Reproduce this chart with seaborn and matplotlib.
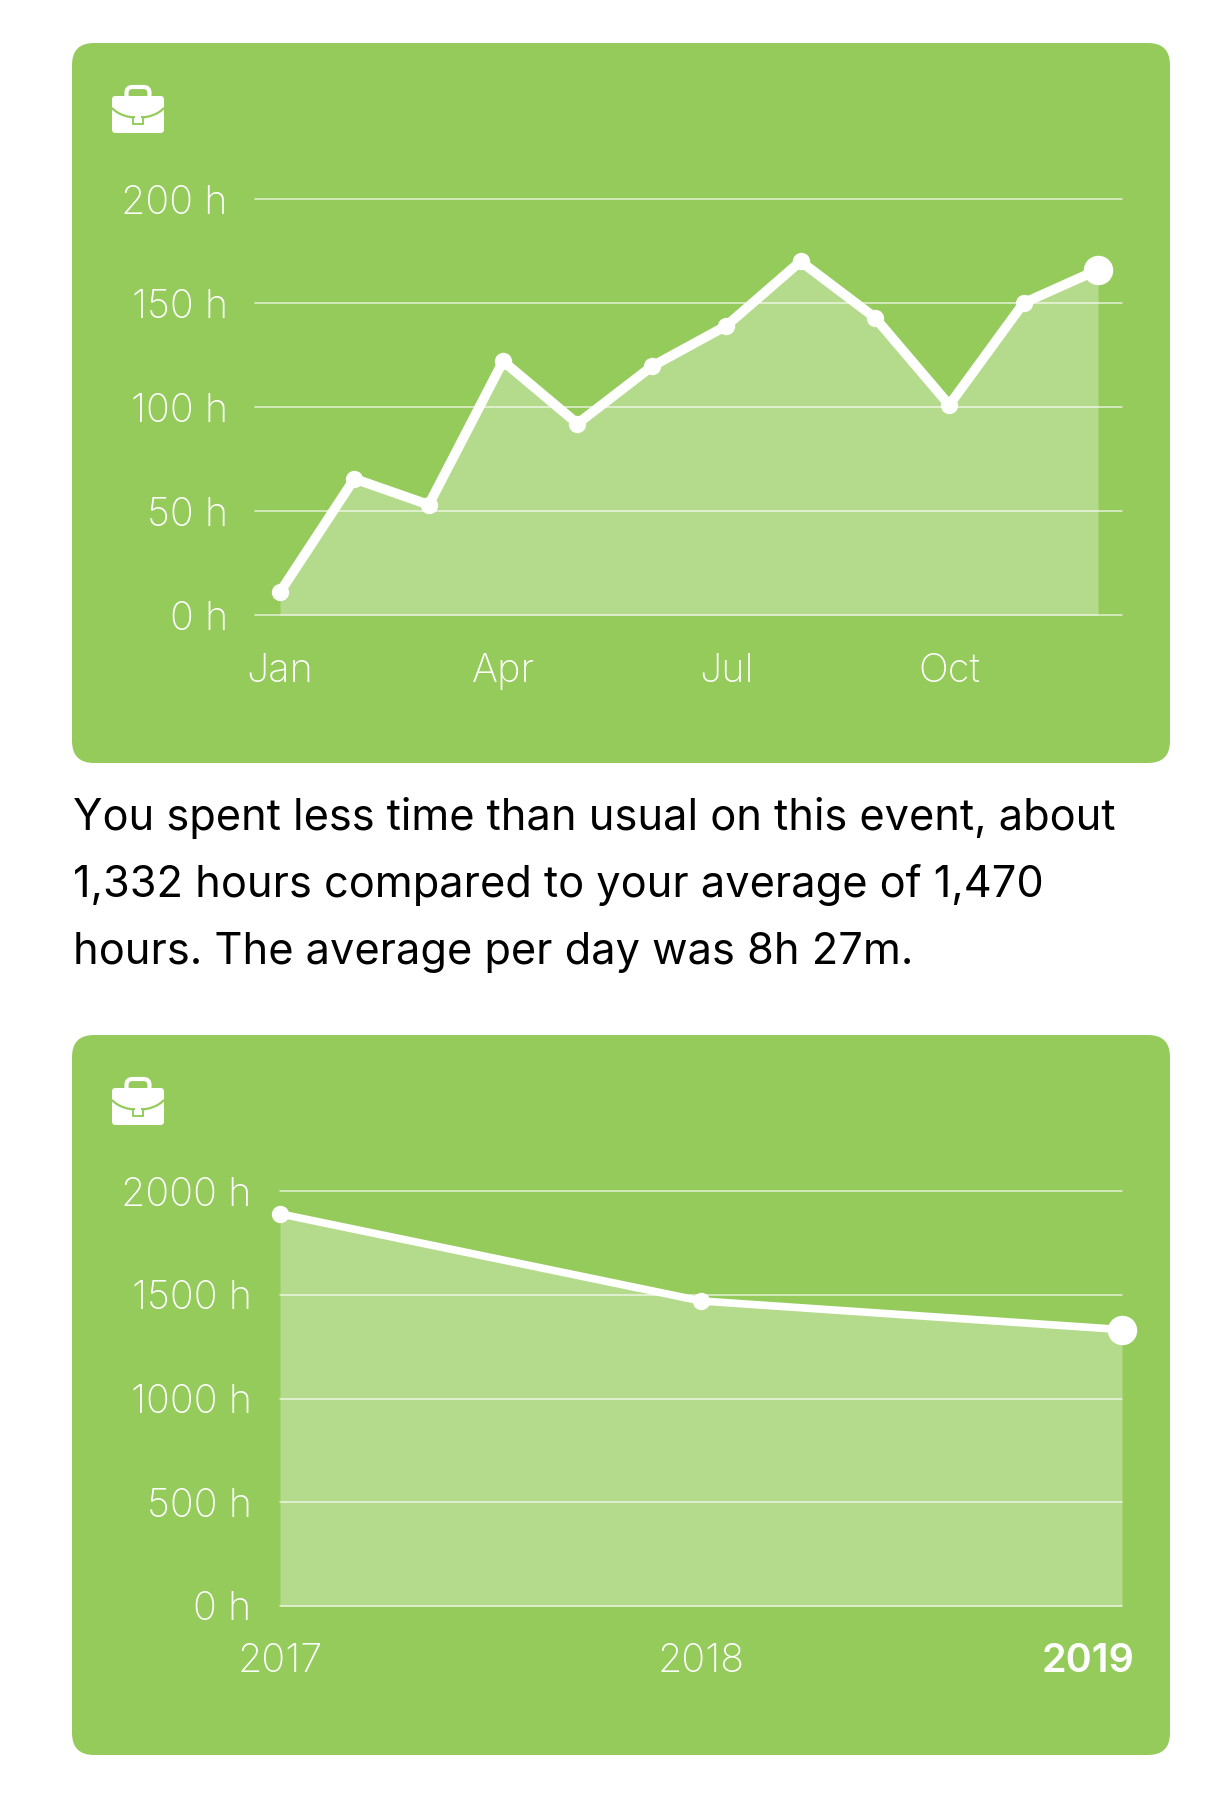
"""
Two green cards with hours-per-period area charts and a sentence in between.
"""

import matplotlib
matplotlib.use('Agg')
import matplotlib.pyplot as plt
from matplotlib.patches import FancyBboxPatch, Rectangle, PathPatch
from matplotlib.path import Path
from matplotlib.transforms import ScaledTranslation
import pandas as pd
import seaborn as sns

# Data
months = ['Jan', 'Feb', 'Mar', 'Apr', 'May', 'Jun',
          'Jul', 'Aug', 'Sep', 'Oct', 'Nov', 'Dec']
month_hours = [11, 65.5, 53, 122, 92, 119.5, 139, 170, 143, 101, 150, 166]
month_ticks = ['Jan', 'Apr', 'Jul', 'Oct']
month_yticks = [0, 50, 100, 150, 200]

years = ['2017', '2018', '2019']
year_hours = [1890, 1470, 1332]
year_yticks = [0, 500, 1000, 1500, 2000]

sentence = ['You spent less time than usual on this event, about',
            '1,332 hours compared to your average of 1,470',
            'hours. The average per day was 8h 27m.']

# Plotting options
W, H = 1232, 1798
GREEN = '#95CB5B'
sns.set_theme(style='white')
plt.rcParams['font.family'] = ['Inter', 'DejaVu Sans']


def add_axes_px(fig, left, top, right, bottom):
    """Add an axes given its box in pixels from the top left corner."""
    return fig.add_axes([left / W, 1 - bottom / H,
                         (right - left) / W, (bottom - top) / H])


def draw_card(bg, top, bottom):
    """Rounded green card with the briefcase icon."""
    bg.add_patch(FancyBboxPatch((72, top), 1098, bottom - top,
                                boxstyle='round,pad=0,rounding_size=22',
                                fc=GREEN, ec='none'))
    y = top + 42
    # handle
    bg.add_patch(FancyBboxPatch((126.5, y + 2), 23, 14,
                                boxstyle='round,pad=0,rounding_size=6',
                                fc='none', ec='white', lw=3.0))
    # body
    bg.add_patch(FancyBboxPatch((112, y + 11), 52, 37,
                                boxstyle='round,pad=0,rounding_size=3.5',
                                fc='white', ec='none', zorder=3))
    # curved gap under the flap
    flap = Path([(112, y + 23), (124, y + 36), (152, y + 36), (164, y + 23)],
                [Path.MOVETO, Path.CURVE4, Path.CURVE4, Path.CURVE4])
    bg.add_patch(PathPatch(flap, fc='none', ec=GREEN, lw=1.6, zorder=4))
    # clasp
    bg.add_patch(Rectangle((133, y + 32), 10, 7, fc='white', ec=GREEN,
                           lw=1.4, zorder=5))
    bg.add_patch(Rectangle((135, y + 30.5), 6, 3, fc='white', ec='none',
                           zorder=6))


def draw_chart(ax, positions, values, yticks, xtick_pos, xtick_labels, lw, ypad):
    """Filled line chart with white grid lines and a big dot on the last point."""
    df = pd.DataFrame({'x': positions, 'hours': values})
    ax.fill_between(df['x'], df['hours'], 0, color='white', alpha=0.3,
                    lw=0, zorder=0.2)
    sns.lineplot(data=df, x='x', y='hours', ax=ax, color='white', lw=lw,
                 marker='o', markersize=12.5, markeredgewidth=0, clip_on=False,
                 solid_joinstyle='round', zorder=3)
    sns.scatterplot(data=df.tail(1), x='x', y='hours', ax=ax, color='white',
                    s=450, linewidth=0, clip_on=False, zorder=4)

    ax.set_ylim(0, yticks[-1])
    ax.set_yticks(yticks)
    ax.set_yticklabels(['%d h' % t for t in yticks])
    ax.set_xticks(xtick_pos)
    ax.set_xticklabels(xtick_labels)
    ax.set_xlabel('')
    ax.set_ylabel('')
    ax.patch.set_alpha(0)
    for spine in ax.spines.values():
        spine.set_visible(False)
    ax.set_axisbelow(True)
    ax.grid(axis='y', color='white', alpha=0.75, lw=1.1, clip_on=False)
    ax.grid(axis='x', visible=False)
    ax.tick_params(axis='y', length=0, pad=ypad, labelsize=28.5,
                   labelcolor='white')
    ax.tick_params(axis='x', length=0, pad=27, labelsize=28.5,
                   labelcolor='white')
    for label in ax.get_xticklabels() + ax.get_yticklabels():
        label.set_fontweight('light')
        label.set_clip_on(False)


if __name__ == '__main__':

    fig = plt.figure(figsize=(W / 100, H / 100), dpi=100, facecolor='white')

    # Background layer in pixel coordinates
    bg = fig.add_axes([0, 0, 1, 1])
    bg.set_xlim(0, W)
    bg.set_ylim(H, 0)
    bg.axis('off')
    draw_card(bg, 43, 763)
    draw_card(bg, 1035, 1755)

    for baseline, line in zip([830, 897, 964], sentence):
        bg.text(73, baseline, line, color='black', fontsize=31.2, va='baseline')

    # Monthly chart
    ax1 = add_axes_px(fig, 255, 199, 1122, 615)
    draw_chart(ax1, list(range(len(months))), month_hours, month_yticks,
               [months.index(m) for m in month_ticks], month_ticks, 7.0, 19.5)
    ax1.set_xlim(-25 / 74.36, 11 + 24 / 74.36)

    # Yearly chart
    ax2 = add_axes_px(fig, 280, 1191, 1122, 1606)
    draw_chart(ax2, [0, 1, 2], year_hours, year_yticks,
               [0, 1, 2], years, 5.5, 20.5)
    ax2.set_xlim(0, 2)

    # Last year label is bold and pulled back inside the card
    last = ax2.get_xticklabels()[-1]
    last.set_fontweight('semibold')
    last.set_ha('right')
    last.set_transform(last.get_transform()
                       + ScaledTranslation(12 / 100, 0, fig.dpi_scale_trans))

    fig.savefig('out.png', dpi=100)
